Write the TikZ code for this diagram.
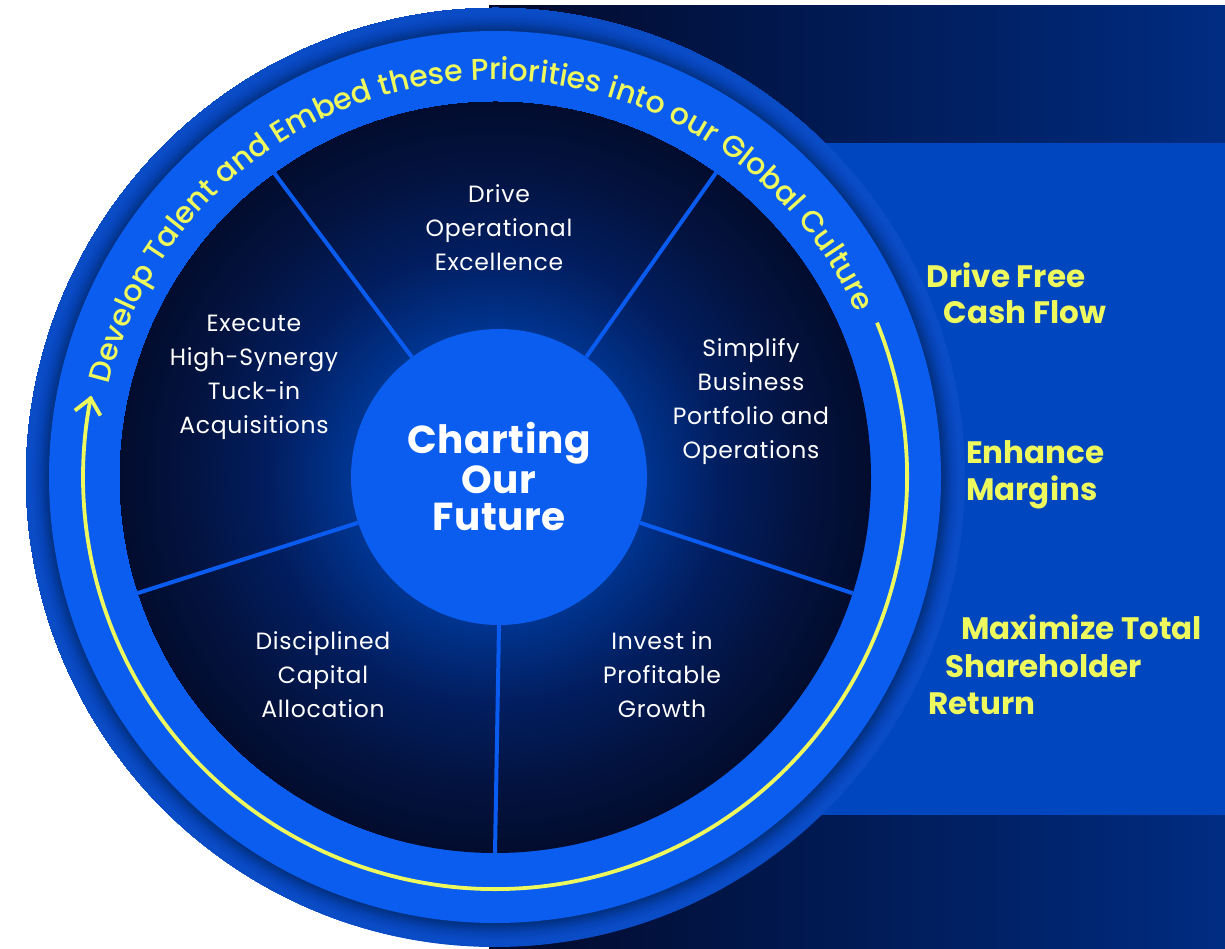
\documentclass[tikz,border=0pt]{standalone}
\usepackage{fontspec}
\setmainfont{Poppins}
\newfontfamily\ringfont{Poppins Medium}
\usetikzlibrary{decorations.text,arrows.meta,calc}

\definecolor{navyL}{HTML}{020A2A}
\definecolor{navyR}{HTML}{002C82}
\definecolor{band}{HTML}{0046BE}
\definecolor{ringblue}{HTML}{0A5DEE}
\definecolor{spokeblue}{HTML}{0A5CF0}
\definecolor{yel}{HTML}{EEF95E}
\definecolor{ringdark}{HTML}{01307F}
\definecolor{ringmid}{HTML}{0642B4}
\definecolor{ringedge}{HTML}{0A4BC6}
\definecolor{discA}{HTML}{0039A5}
\definecolor{discB}{HTML}{00348F}
\definecolor{discC}{HTML}{021E60}
\definecolor{discD}{HTML}{03123D}
\definecolor{discE}{HTML}{020C2E}

\pgfdeclareradialshading{outershade}{\pgfpointorigin}{color(0pt)=(ringdark); color(446pt)=(ringdark); color(456pt)=(ringmid); color(464pt)=(ringedge); color(470pt)=(ringedge)}
\pgfdeclareradialshading{discshade}{\pgfpointorigin}{color(0pt)=(discA); color(148pt)=(discB); color(225pt)=(discC); color(316pt)=(discD); color(376pt)=(discE)}

\newcommand\ringfmt{\color{yel}\ringfont\fontsize{30pt}{30pt}\selectfont}

\tikzset{
  seglabel/.style={text=white, align=center, font=\fontsize{23.5pt}{34pt}\selectfont\addfontfeature{LetterSpace=3}, inner sep=0pt},
  goal/.style={text=yel, font=\bfseries\fontsize{31pt}{31pt}\selectfont, inner sep=0pt},
  spokeline/.style={spokeblue, line width=4pt},
  shadebox/.style={inner sep=0pt, outer sep=0pt},
  yline/.style={yel, line width=3.8pt},
}

\begin{document}
\begin{tikzpicture}[x=1pt,y=1pt]
\useasboundingbox (0,0) rectangle (1225,948);
\fill[white] (0,0) rectangle (1225,948);
\coordinate (C) at (495,471);
% backgrounds
\shade[left color=navyL, right color=navyR] (489,0) rectangle (1225,942);
\fill[band] (700,133) rectangle (1225,805);
% outer ring
\begin{scope}
  \clip (C) circle (470);
  \node[shadebox] (outerring) at (C) {\pgfuseshading{outershade}};
\end{scope}
\fill[ringblue] (C) circle (446);
% inner disc
\begin{scope}
  \clip (C) circle (376);
  \node[shadebox] (disc) at (C) {\pgfuseshading{discshade}};
\end{scope}
% hub
\node[circle, fill=ringblue, minimum size=296pt, inner sep=0pt, text=white,
      align=center, font=\bfseries\fontsize{39pt}{37.5pt}\selectfont\addfontfeature{LetterSpace=1.5}] (hub) at (499,471)
      {Charting\\Our\\Future};
% spokes
\foreach \a in {54,126,198,270,342}{
  \coordinate (rim\a) at ($(C)+(\a:376)$);
  \draw[spokeline] (hub.\a) -- (rim\a);
}
% segment labels
\node[seglabel] (s1) at (499,720.5) {Drive\\Operational\\Excellence};
\node[seglabel] (s2) at (254,570.5) {Execute\\High-Synergy\\Tuck-in\\Acquisitions};
\node[seglabel] (s3) at (751,546.5) {Simplify\\Business\\Portfolio and\\Operations};
\node[seglabel] (s4) at (323,273) {Disciplined\\Capital\\Allocation};
\node[seglabel] (s5) at (662,273) {Invest in\\Profitable\\Growth};
% yellow arc with chevron arrowhead
\coordinate (tip) at ($(C)+(169:412)$);
\coordinate (barbA) at ($(tip)+(-2.9,-14.7)+(12.8,-2.5)$);
\coordinate (barbB) at ($(tip)+(-2.9,-14.7)+(-12.8,2.5)$);
\draw[yline] (C) ++(22:412) arc[start angle=22, end angle=-191.2, radius=412];
\draw[yline, line join=miter] (barbA) -- (tip) -- (barbB);
% ring text
\path[decorate, decoration={text along path,
  text={|\ringfmt|Develop Talent and Embed these Priorities into our Global Culture},
  text align=fit to path}]
  (C) ++(166.5:397) arc[start angle=166.5, end angle=25.5, radius=397];
% goals
\node[goal, anchor=base] (g1) at (1006,660) {Drive Free};
\node[goal, anchor=base] (g2) at (1025,624) {Cash Flow};
\node[goal, anchor=base west] (g3) at (966,484) {Enhance};
\node[goal, anchor=base west] (g4) at (966,447) {Margins};
\node[goal, anchor=base west] (g5) at (961,308) {Maximize Total};
\node[goal, anchor=base west] (g6) at (945,271) {Shareholder};
\node[goal, anchor=base west] (g7) at (928,234) {Return};
\end{tikzpicture}
\end{document}
